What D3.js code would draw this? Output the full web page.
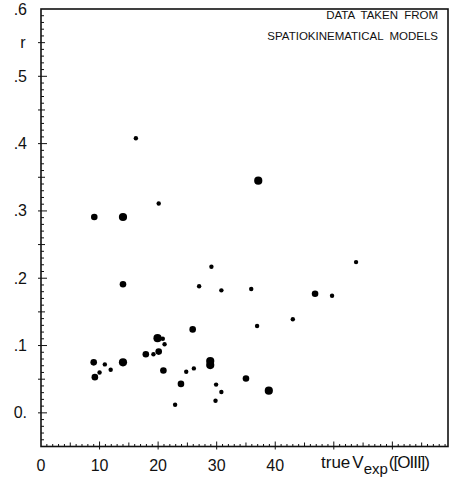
<!DOCTYPE html>
<html>
<head>
<meta charset="utf-8">
<script src="https://cdn.jsdelivr.net/npm/d3@7"></script>
<style>
  body { margin: 0; background: #fff; }
  text { font-family: "Liberation Sans", Arial, sans-serif; fill: #111; }
</style>
</head>
<body>
<svg id="chart" width="450" height="486"></svg>
<script>
// expansion velocity (km/s) vs r
const vexp = [16.2, 20.1, 9.1, 14.0, 37.1, 14.0, 29.1, 27.0, 30.8, 25.9,
              19.9, 20.8, 21.1, 17.9, 19.2, 20.1, 9.0, 14.0, 10.9, 10.0,
              11.9, 9.2, 20.9, 24.8, 26.1, 28.9, 28.9, 23.9, 29.9, 30.8,
              29.8, 22.9, 53.8, 35.9, 46.8, 49.7, 36.9, 43.0, 35.0, 38.9];
const rval = [0.408, 0.311, 0.291, 0.291, 0.345, 0.191, 0.217, 0.188, 0.182, 0.124,
              0.111, 0.110, 0.102, 0.087, 0.087, 0.091, 0.075, 0.075, 0.072, 0.060,
              0.064, 0.053, 0.063, 0.061, 0.066, 0.077, 0.071, 0.043, 0.042, 0.031,
              0.018, 0.012, 0.224, 0.184, 0.177, 0.174, 0.129, 0.139, 0.051, 0.033];
// dot size class: 1 small, 2 medium, 3 large
const sizeClass = [1, 1, 2, 3, 3, 2, 1, 1, 1, 2,
                   3, 1, 1, 2, 1, 2, 2, 3, 1, 1,
                   1, 2, 2, 1, 1, 3, 3, 2, 1, 1,
                   1, 1, 1, 1, 2, 1, 1, 1, 2, 3];
const xLabels = [0, 10, 20, 30, 40];
const yLabels = [0, 0.1, 0.2, 0.3, 0.4, 0.5, 0.6];

const svg = d3.select("#chart");
const x = d3.scaleLinear().domain([0, 69.5]).range([41, 448]);
const y = d3.scaleLinear().domain([-0.05, 0.6]).range([446.5, 9]);
const rad = d3.scaleOrdinal().domain([1, 2, 3]).range([2.2, 3.3, 4.1]);

// frame
svg.append("rect")
  .attr("x", x(0)).attr("y", y(0.6))
  .attr("width", x(69.5) - x(0)).attr("height", y(-0.05) - y(0.6))
  .attr("fill", "none").attr("stroke", "#111").attr("stroke-width", 1.6);

// x minor ticks every 1
const xt = svg.append("g").attr("stroke", "#111");
d3.range(1, 70).forEach(function(v) {
  let len = v % 10 === 0 ? 5 : (v % 5 === 0 ? 4 : 2.5);
  xt.append("line")
    .attr("x1", x(v)).attr("x2", x(v))
    .attr("y1", y(-0.05)).attr("y2", y(-0.05) - len)
    .attr("stroke-width", 1);
  if (v % 10 === 0) {
    xt.append("line")
      .attr("x1", x(v)).attr("x2", x(v))
      .attr("y1", y(-0.05)).attr("y2", y(-0.05) + 3)
      .attr("stroke-width", 1);
  }
});

// y minor ticks every 0.01
const yt = svg.append("g").attr("stroke", "#111");
d3.range(-4, 60).forEach(function(i) {
  let v = i / 100;
  let len = i % 10 === 0 ? 6 : (i % 5 === 0 ? 4 : 3);
  yt.append("line")
    .attr("x1", x(0)).attr("x2", x(0) + len)
    .attr("y1", y(v)).attr("y2", y(v))
    .attr("stroke-width", 1);
  if (i % 5 === 0) {
    yt.append("line")
      .attr("x1", x(0) - 3).attr("x2", x(0))
      .attr("y1", y(v)).attr("y2", y(v))
      .attr("stroke-width", 1);
  }
});

// tick labels
svg.selectAll(".xl").data(xLabels).enter().append("text")
  .attr("class", "xl")
  .attr("x", d => x(d)).attr("y", 471)
  .attr("text-anchor", "middle")
  .attr("font-size", 16)
  .text(d => d);

svg.selectAll(".yl").data(yLabels).enter().append("text")
  .attr("class", "yl")
  .attr("x", 27).attr("y", d => y(d) + 5.5)
  .attr("text-anchor", "end")
  .attr("font-size", 16)
  .text(d => d === 0 ? "0." : d3.format(".1f")(d).replace("0.", "."));

// axis titles
svg.append("text").attr("x", 23).attr("y", 48)
  .attr("text-anchor", "middle").attr("font-size", 16).text("r");

const xt2 = svg.append("text").attr("x", 321).attr("y", 468).attr("font-size", 17);
xt2.append("tspan").text("true");
xt2.append("tspan").attr("dx", 2).text("V");
xt2.append("tspan").attr("dy", 6).attr("font-size", 15).text("exp");
xt2.append("tspan").attr("dy", -6).attr("dx", 1).attr("letter-spacing", -1).text("([OIII])");

// note
svg.append("text").attr("x", 438).attr("y", 19)
  .attr("text-anchor", "end").attr("font-size", 11.5)
  .attr("word-spacing", 3).text("DATA TAKEN FROM");
svg.append("text").attr("x", 438).attr("y", 40)
  .attr("text-anchor", "end").attr("font-size", 11.5)
  .attr("word-spacing", 3).text("SPATIOKINEMATICAL MODELS");

// points
svg.append("g").selectAll("circle")
  .data(d3.range(vexp.length))
  .enter().append("circle")
  .attr("cx", i => x(vexp[i]))
  .attr("cy", i => y(rval[i]))
  .attr("r", i => rad(sizeClass[i]))
  .attr("fill", "#000");
</script>
</body>
</html>
